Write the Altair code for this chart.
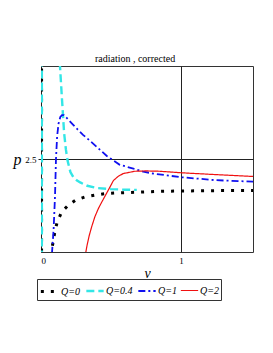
import altair as alt
import pandas as pd

# Q=0 (black dotted): left-edge branch + main branch
q0_edge_v = [0.004, 0.004]
q0_edge_p = [5.2, -0.2]
q0_v = [0.072, 0.076, 0.088, 0.10, 0.116, 0.148, 0.195, 0.25, 0.314, 0.386, 0.457, 0.55, 0.707, 0.85, 1.005, 1.25, 1.52]
q0_p = [-0.1, 0.05, 0.30, 0.57, 0.81, 1.08, 1.26, 1.40, 1.48, 1.53, 1.57, 1.59, 1.61, 1.63, 1.64, 1.65, 1.65]

# Q=0.4 (cyan dashed)
q04_edge_v = [0.006, 0.006]
q04_edge_p = [5.2, -0.2]
q04_v = [0.134, 0.15, 0.165, 0.178, 0.19, 0.21, 0.23, 0.255, 0.28, 0.33, 0.4, 0.5, 0.6, 0.684]
q04_p = [5.1, 4.1, 3.2, 2.75, 2.45, 2.15, 2.02, 1.93, 1.87, 1.78, 1.72, 1.69, 1.675, 1.67]

# Q=1 (blue dash-dot)
q1_v = [0.078, 0.09, 0.10, 0.107, 0.115, 0.125, 0.138, 0.15, 0.163, 0.18, 0.2, 0.23, 0.26, 0.3, 0.35, 0.4, 0.47, 0.56, 0.66, 0.73, 0.8, 1.0, 1.25, 1.52]
q1_p = [-0.05, 0.6, 1.5, 2.5, 3.1, 3.45, 3.63, 3.68, 3.68, 3.62, 3.54, 3.42, 3.3, 3.15, 2.99, 2.82, 2.58, 2.35, 2.24, 2.16, 2.11, 2.01, 1.93, 1.89]

# Q=2 (red solid)
q2_v = [0.318, 0.33, 0.345, 0.362, 0.385, 0.41, 0.435, 0.457, 0.493, 0.517, 0.55, 0.588, 0.67, 0.75, 0.85, 1.0, 1.25, 1.52]
q2_p = [-0.05, 0.2, 0.45, 0.68, 0.95, 1.17, 1.35, 1.5, 1.75, 1.92, 2.03, 2.11, 2.17, 2.18, 2.17, 2.13, 2.08, 2.03]

labels = ["Q=0", "Q=0.4", "Q=1", "Q=2"]
colors = ["#000000", "#33E6E6", "#1010F0", "#F01010"]
dashes = [[3, 7], [8, 4], [7, 3, 2, 3], [1, 0]]
widths = [3, 1.2, 1.2, 1.3]

rows = []
def add(label, branch, vs, ps):
    for i, (v, p) in enumerate(zip(vs, ps)):
        rows.append({"Q": label, "branch": f"{label}-{branch}", "i": i, "v": v, "p": p})

add("Q=0", "a", q0_edge_v, q0_edge_p)
add("Q=0", "b", q0_v, q0_p)
add("Q=0.4", "a", q04_edge_v, q04_edge_p)
add("Q=0.4", "b", q04_v, q04_p)
add("Q=1", "b", q1_v, q1_p)
add("Q=2", "b", q2_v, q2_p)
df = pd.DataFrame(rows)

FONT = "Liberation Serif"

legend = alt.Legend(
    title=None, orient="none", legendX=-4, legendY=213, direction="horizontal", gridAlign="none",
    symbolType="stroke", symbolSize=300, labelFont=FONT, labelFontStyle="italic",
    labelFontSize=10, labelColor="black", labelOffset=1, strokeColor="#333",
    padding=2, columnPadding=1, symbolOpacity=1,
)

chart = alt.Chart(df, title=alt.Title("radiation , corrected", fontSize=10, font=FONT,
                                      fontWeight="normal", offset=2, dx=-12)).mark_line(clip=True, strokeCap="butt").encode(
    x=alt.X("v:Q", scale=alt.Scale(domain=[0, 1.514], nice=False, zero=False),
            axis=alt.Axis(values=[0, 1], grid=True, gridColor="#222", gridOpacity=1, domain=False,
                          tickSize=0, labelPadding=4, labelFont=FONT, labelFontSize=9, labelColor="black",
                          title="v", titleFont=FONT, titleFontStyle="italic", titleFontSize=14,
                          titleFontWeight="normal", titlePadding=1, titleColor="black")),
    y=alt.Y("p:Q", scale=alt.Scale(domain=[0, 5], nice=False),
            axis=alt.Axis(values=[2.5], grid=True, gridColor="#222", gridOpacity=1, domain=False,
                          tickSize=3, tickColor="#222", labelPadding=2, labelFont=FONT, labelFontSize=9,
                          labelColor="black", format=".1f",
                          title="p", titleFont=FONT, titleFontStyle="italic", titleFontSize=16,
                          titleFontWeight="normal", titleAngle=0, titleAlign="right",
                          titleBaseline="middle", titleX=-20, titleY=93, titleColor="black")),
    color=alt.Color("Q:N", scale=alt.Scale(domain=labels, range=colors), legend=legend),
    strokeDash=alt.StrokeDash("Q:N", scale=alt.Scale(domain=labels, range=dashes), legend=legend),
    strokeWidth=alt.StrokeWidth("Q:N", scale=alt.Scale(domain=labels, range=widths), legend=legend),
    detail="branch:N",
    order="i:Q",
).properties(
    width=212, height=186,
    autosize=alt.AutoSizeParams(type="none"),
    padding={"left": 33, "top": 58, "right": 12, "bottom": 60},
).configure(
    font=FONT
).configure_view(
    stroke="#333", strokeWidth=1
)

chart.save("out.html", embed_options={"renderer": "svg", "actions": False})
